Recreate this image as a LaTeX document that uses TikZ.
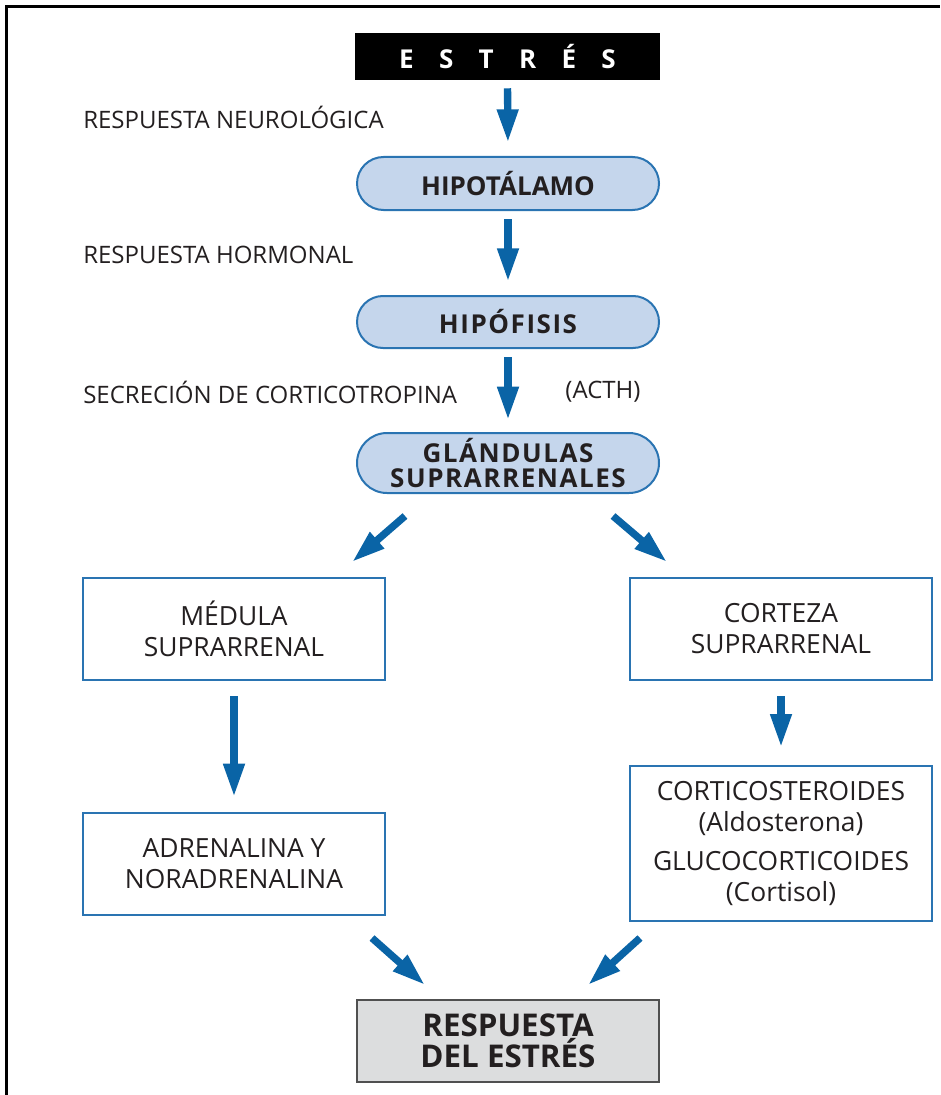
\documentclass[tikz,border=0pt]{standalone}
\usepackage{fontspec}
\setmainfont{Open Sans}
\usetikzlibrary{arrows.meta,shapes.misc}
\definecolor{ink}{HTML}{231F20}
\definecolor{arrowblue}{HTML}{0A64A6}
\definecolor{boxblue}{HTML}{2A74B2}
\definecolor{pillfill}{HTML}{C5D6EC}
\definecolor{grayfill}{HTML}{DCDDDE}
\definecolor{grayline}{HTML}{505050}
\newcommand{\labtext}{\fontsize{18}{22}\selectfont}
\newcommand{\regtext}{\fontsize{19.8}{23.25}\selectfont}
\newcommand{\boldtext}{\fontsize{19.5}{18.75}\selectfont\bfseries}
\tikzset{
  x=0.75pt, y=-0.75pt,
  every node/.style={text=ink, inner sep=0pt},
  pill/.style={rounded rectangle, draw=boxblue, line width=1.5pt, fill=pillfill,
    minimum width=226.5pt, align=center, font=\boldtext},
  bluebox/.style={rectangle, draw=boxblue, line width=2pt, fill=white,
    minimum width=226.5pt, align=center, font=\regtext},
  label/.style={anchor=west, font=\labtext},
  arr/.style={draw=arrowblue, line width=5.5pt,
    -{Triangle[length=25pt,width=15pt]}},
}
\begin{document}
\begin{tikzpicture}
\useasboundingbox (0,0) rectangle (940,1095);
\draw[line width=2.25pt, black] (6.5,1095) -- (6.5,6.5) -- (940,6.5);

% nodes
\node[fill=black, minimum width=228.75pt, minimum height=35.25pt,
  text=white, font=\fontsize{19.5}{20}\selectfont\bfseries] (estres) at (507.5,56.5)
  {E\hspace{19pt}S\hspace{19pt}T\hspace{19pt}R\hspace{19pt}É\hspace{19pt}S};
\node[pill, minimum height=39.75pt] (hipot) at (508,183.5) {HIPOTÁLAMO};
\node[pill, minimum height=39pt] (hipof) at (508,322) {\addfontfeatures{LetterSpace=6}HIPÓFISIS};
\node[pill, minimum height=45pt] (gland) at (508,463)
  {\addfontfeatures{LetterSpace=6}GLÁNDULAS\\\addfontfeatures{LetterSpace=6}SUPRARRENALES};
\node[bluebox, minimum height=76.5pt] (medula) at (234,629) {MÉDULA\\SUPRARRENAL};
\node[bluebox, minimum height=76.5pt] (corteza) at (781,629) {CORTEZA\\SUPRARRENAL};
\node[bluebox, minimum height=76.5pt] (adren) at (234,864) {ADRENALINA Y\\NORADRENALINA};
\node[bluebox, minimum height=116.25pt] (cortico) at (781,843.5)
  {CORTICOSTEROIDES\\(Aldosterona)\\[6pt]GLUCOCORTICOIDES\\(Cortisol)};
\node[rectangle, draw=grayline, line width=1.5pt, fill=grayfill,
  minimum width=226.5pt, minimum height=61.5pt, align=center,
  font=\fontsize{23.5}{21.75}\selectfont\bfseries] (resp) at (508,1041)
  {RESPUESTA\\DEL ESTRÉS};

% labels
\node[label] (l1) at (83,117) {RESPUESTA NEUROLÓGICA};
\node[label] (l2) at (83,255) {RESPUESTA HORMONAL};
\node[label] (l3) at (83,392) {SECRECIÓN DE CORTICOTROPINA};
\node[font=\labtext] (l4) at (603,392) {(ACTH)};

% connectors
\draw[arr, shorten <=6pt, shorten >=10pt] (estres.south) -- (hipot.north);
\draw[arr, shorten <=6pt, shorten >=10pt] (hipot.south) -- (hipof.north);
\draw[arr, shorten <=6pt, shorten >=9pt] (hipof.south) -- (gland.north);

\coordinate (d1s) at (405,516); \coordinate (d1e) at (352,562);
\coordinate (d2s) at (613,516); \coordinate (d2e) at (667,562);
\draw[arr] (d1s) -- (d1e);
\draw[arr] (d2s) -- (d2e);

\draw[arr, shorten <=11pt, shorten >=11pt] (medula.south) -- (adren.north);
\draw[arr, shorten <=11pt, shorten >=13pt] (corteza.south) -- (cortico.north);

\coordinate (d3s) at (372,938); \coordinate (d3e) at (425,985);
\coordinate (d4s) at (640,938); \coordinate (d4e) at (588,985);
\draw[arr] (d3s) -- (d3e);
\draw[arr] (d4s) -- (d4e);
\end{tikzpicture}
\end{document}
